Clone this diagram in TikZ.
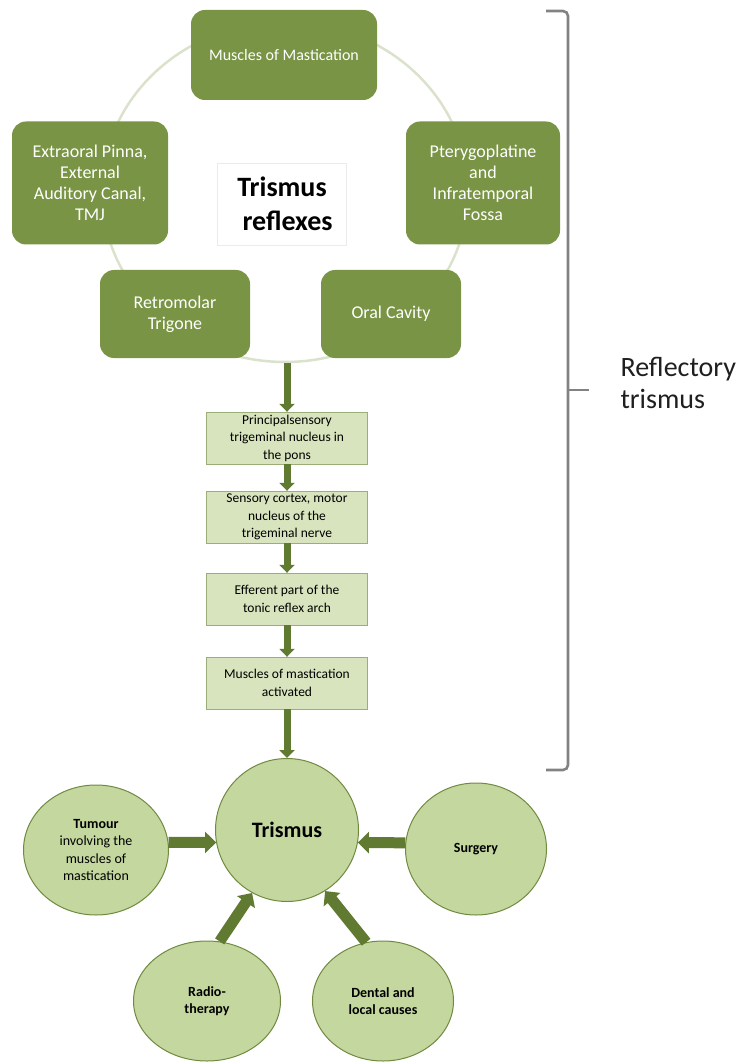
\documentclass[tikz,border=0pt]{standalone}
\usepackage{fontspec}
\setmainfont{Carlito}
\usetikzlibrary{arrows.meta,positioning,shapes.geometric}
\definecolor{zonegreen}{RGB}{120,148,68}
\definecolor{stepgreen}{RGB}{216,228,190}
\definecolor{causegreen}{RGB}{196,215,158}
\definecolor{edgegreen}{RGB}{112,138,64}
\definecolor{arrowgreen}{RGB}{96,122,50}
\definecolor{ringgrey}{RGB}{218,226,204}
\definecolor{bracegrey}{RGB}{130,130,130}
\tikzset{
  zone/.style={draw=none,fill=zonegreen,text=white,rounded corners=14pt,align=center,
               inner sep=2pt,font=\fontsize{18}{21}\selectfont},
  stepbox/.style={draw=edgegreen!70,fill=stepgreen,align=center,inner sep=2pt,
                  minimum width=161pt,minimum height=52pt,font=\fontsize{13.5}{17.5}\selectfont},
  cause/.style={ellipse,draw=edgegreen,fill=causegreen,line width=1pt,align=center,
                inner sep=0pt,font=\fontsize{14}{17.5}\selectfont\bfseries},
  flow/.style={-{Triangle[length=8pt,width=15pt]},line width=7pt,draw=arrowgreen},
  fat/.style={-{Triangle[length=11pt,width=21pt]},line width=11pt,draw=arrowgreen},
  brk/.style={draw=bracegrey,line width=2.6pt,rounded corners=5pt},
}

\begin{document}
\begin{tikzpicture}[x=1pt,y=1pt]
  \useasboundingbox (0,0) rectangle (749,-1064);

  % ring behind the reflex zones
  \draw[ringgrey,line width=2.5pt] (285,-192) ellipse[x radius=183,y radius=170];

  \node[zone,minimum width=186pt,minimum height=90pt,font=\fontsize{16}{19}\selectfont]
    (mast) at (284,-55) {Muscles of Mastication};
  \node[zone,minimum width=156pt,minimum height=123pt] (pinna) at (90,-183)
    {Extraoral Pinna,\\External\\Auditory Canal,\\TMJ};
  \node[zone,minimum width=154pt,minimum height=123pt] (fossa) at (483,-183)
    {Pterygoplatine\\and\\Infratemporal\\Fossa};
  \node[zone,minimum width=150pt,minimum height=88pt] (retro) at (175,-314)
    {Retromolar\\Trigone};
  \node[zone,minimum width=140pt,minimum height=88pt] (oral) at (391,-314)
    {Oral Cavity};

  \node[draw=black!8,fill=white,minimum width=129pt,minimum height=82pt,align=center,
        font=\fontsize{28}{34}\selectfont\bfseries] (title) at (282,-204)
    {Trismus\\\hspace*{.4em}reflexes};

  % reflex arc
  \node[stepbox] (sens)   at (287,-438) {Principalsensory\\trigeminal nucleus in\\the pons};
  \node[stepbox] (cortex) at (287,-517) {Sensory cortex, motor\\nucleus of the\\trigeminal nerve};
  \node[stepbox] (arch)   at (287,-599) {Efferent part of the\\tonic reflex arch};
  \node[stepbox] (act)    at (287,-683) {Muscles of mastication\\activated};

  \coordinate (ringbot) at (287,-363);
  \draw[flow] (ringbot) -- (sens.north);
  \draw[flow] (sens) -- (cortex);
  \draw[flow] (cortex) -- (arch);
  \draw[flow] (arch) -- (act);

  % causes
  \node[cause,circle,minimum size=143pt,font=\fontsize{22}{26}\selectfont\bfseries]
    (trismus) at (287,-830) {Trismus};
  \node[cause,minimum width=145pt,minimum height=130pt,font=\fontsize{14}{17.5}\selectfont]
    (tumour) at (96,-850)
    {\textbf{Tumour}\\involving the\\muscles of\\mastication};
  \node[cause,minimum width=141pt,minimum height=132pt] (surgery) at (476,-849) {Surgery};
  \node[cause,minimum width=147pt,minimum height=120pt] (radio) at (207,-1001)
    {Radio-\\therapy};
  \node[cause,minimum width=141pt,minimum height=120pt] (dental) at (383,-1001)
    {Dental and\\local causes};

  \draw[flow] (act) -- (trismus.north);
  \draw[fat] (tumour.6) -- (trismus.190);
  \draw[fat] (surgery.175) -- (trismus.350);
  \draw[fat] (radio.78) -- (trismus.241);
  \draw[fat] (dental.106) -- (trismus.302);

  % bracket
  \draw[brk] (546,-11) -- (568,-11) -- (568,-770) -- (546,-770);
  \draw[brk] (568,-390) -- (589,-390);
  \node[anchor=west,align=left,text=black!88,font=\fontsize{28}{32}\selectfont]
    (reflab) at (617,-383) {Reflectory\\trismus};
\end{tikzpicture}
\end{document}
